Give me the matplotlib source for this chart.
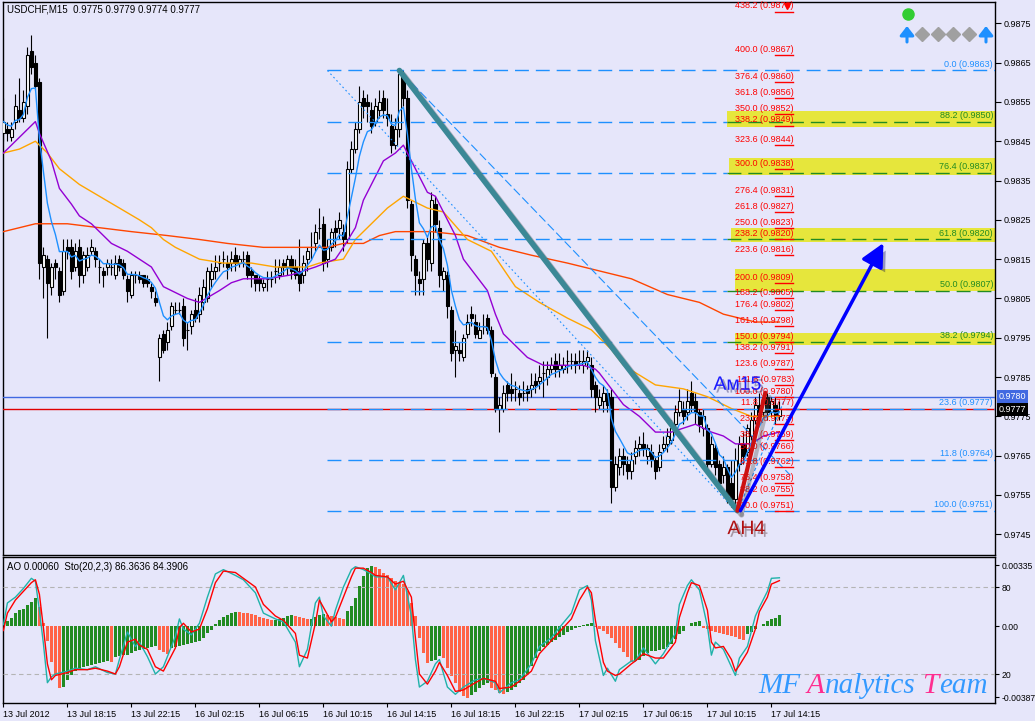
import numpy as np
import pandas as pd
import matplotlib
matplotlib.use('Agg')
import matplotlib.pyplot as plt
import matplotlib.patheffects as pe
from matplotlib.patches import Rectangle, FancyArrowPatch
from matplotlib.lines import Line2D
from matplotlib.transforms import blended_transform_factory

plt.rcParams['font.family'] = ['Liberation Sans', 'DejaVu Sans']

# ---- USDCHF M15 candles (13 Jul 14:15 .. 17 Jul 14:45) ----
opens = [.9847, .9848, .9846, .9850, .9853, .9851, .9854, .9868, .9865, .9860,
         .9813, .9815, .9808, .9814, .9812, .9807, .9818, .9818, .9813, .9818,
         .9811, .9813, .9817, .9817, .9813, .9812, .9813, .9813, .9811, .9815,
         .9814, .9810, .9806, .9811, .9811, .9811, .9810, .9808, .9805, .9790,
         .9796, .9794, .9798, .9802, .9802, .9803, .9797, .9798, .9802, .9801,
         .9804, .9805, .9810, .9812, .9814, .9815, .9814, .9814, .9816, .9814,
         .9815, .9816, .9812, .9811, .9810, .9808, .9810, .9810, .9812, .9811,
         .9814, .9813, .9815, .9813, .9812, .9811, .9815, .9818, .9819, .9823,
         .9824, .9815, .9818, .9823, .9823, .9822, .9820, .9838, .9843, .9848,
         .9856, .9855, .9853, .9850, .9853, .9856, .9852, .9849, .9844, .9848,
         .9861, .9856, .9829, .9815, .9810, .9810, .9819, .9814, .9829, .9823,
         .9810, .9811, .9802, .9792, .9792, .9790, .9796, .9801, .9799, .9795,
         .9798, .9800, .9797, .9785, .9777, .9777, .9783, .9782, .9782, .9781,
         .9781, .9782, .9782, .9784, .9784, .9786, .9785, .9787, .9789, .9787,
         .9787, .9789, .9789, .9789, .9789, .9788, .9789, .9788, .9783, .9778,
         .9779, .9781, .9780, .9757, .9762, .9765, .9763, .9761, .9765, .9767,
         .9768, .9765, .9766, .9764, .9762, .9767, .9768, .9769, .9773, .9776,
         .9777, .9776, .9781, .9779, .9776, .9772, .9772, .9763, .9767, .9763,
         .9760, .9762, .9758, .9754, .9763, .9768, .9766, .9770, .9774, .9778,
         .9776, .9780, .9776, .9778, .9775]
highs = [.9856, .9850, .9850, .9857, .9861, .9858, .9869, .9872, .9867, .9861,
         .9818, .9816, .9814, .9815, .9813, .9820, .9820, .9820, .9819, .9820,
         .9817, .9818, .9820, .9818, .9815, .9813, .9815, .9815, .9816, .9816,
         .9815, .9811, .9812, .9812, .9812, .9811, .9811, .9809, .9807, .9796,
         .9797, .9799, .9804, .9804, .9804, .9805, .9799, .9802, .9805, .9808,
         .9810, .9813, .9814, .9816, .9816, .9817, .9816, .9817, .9818, .9816,
         .9817, .9817, .9813, .9811, .9811, .9810, .9812, .9812, .9815, .9815,
         .9815, .9816, .9816, .9815, .9820, .9816, .9818, .9822, .9824, .9828,
         .9826, .9820, .9823, .9825, .9827, .9824, .9840, .9845, .9850, .9859,
         .9858, .9857, .9855, .9856, .9858, .9858, .9856, .9852, .9851, .9863,
         .9863, .9858, .9830, .9816, .9812, .9820, .9821, .9832, .9831, .9825,
         .9813, .9812, .9803, .9797, .9794, .9796, .9801, .9803, .9801, .9799,
         .9801, .9801, .9798, .9786, .9780, .9783, .9784, .9786, .9784, .9783,
         .9784, .9783, .9786, .9786, .9788, .9789, .9789, .9790, .9791, .9791,
         .9790, .9792, .9791, .9791, .9792, .9792, .9792, .9790, .9784, .9782,
         .9783, .9782, .9782, .9765, .9767, .9767, .9765, .9766, .9769, .9770,
         .9771, .9768, .9768, .9765, .9768, .9770, .9772, .9774, .9778, .9782,
         .9779, .9782, .9784, .9781, .9777, .9777, .9773, .9770, .9768, .9764,
         .9765, .9763, .9764, .9767, .9770, .9771, .9773, .9776, .9780, .9781,
         .9781, .9781, .9780, .9780, .9779]
lows = [.9845, .9845, .9845, .9848, .9850, .9850, .9852, .9862, .9858, .9810,
        .9805, .9795, .9806, .9810, .9804, .9806, .9815, .9810, .9812, .9808,
        .9809, .9812, .9816, .9813, .9809, .9808, .9811, .9811, .9810, .9812,
        .9810, .9804, .9805, .9809, .9809, .9808, .9808, .9805, .9803, .9784,
        .9791, .9792, .9797, .9801, .9801, .9793, .9792, .9796, .9799, .9799,
        .9802, .9804, .9808, .9810, .9812, .9813, .9810, .9812, .9812, .9813,
        .9813, .9810, .9808, .9807, .9807, .9807, .9807, .9808, .9809, .9810,
        .9811, .9811, .9810, .9810, .9807, .9809, .9812, .9815, .9817, .9820,
        .9812, .9813, .9817, .9818, .9820, .9817, .9819, .9837, .9842, .9847,
        .9851, .9850, .9847, .9849, .9851, .9851, .9849, .9842, .9843, .9846,
        .9854, .9828, .9812, .9806, .9806, .9806, .9812, .9812, .9822, .9808,
        .9807, .9800, .9789, .9785, .9789, .9789, .9795, .9798, .9795, .9795,
        .9796, .9796, .9785, .9776, .9771, .9776, .9779, .9779, .9779, .9778,
        .9779, .9779, .9780, .9781, .9782, .9780, .9783, .9786, .9785, .9785,
        .9786, .9786, .9787, .9786, .9787, .9786, .9787, .9780, .9776, .9777,
        .9776, .9776, .9753, .9756, .9760, .9760, .9759, .9759, .9763, .9765,
        .9765, .9763, .9762, .9759, .9761, .9766, .9766, .9768, .9771, .9775,
        .9773, .9774, .9776, .9773, .9771, .9770, .9761, .9762, .9760, .9756,
        .9758, .9753, .9752, .9751, .9761, .9763, .9765, .9769, .9773, .9775,
        .9775, .9774, .9775, .9773, .9774]
closes = [.9850, .9847, .9848, .9854, .9851, .9855, .9867, .9864, .9859, .9814,
          .9816, .9809, .9813, .9813, .9806, .9817, .9817, .9812, .9817, .9811,
          .9816, .9816, .9818, .9815, .9813, .9811, .9814, .9813, .9814, .9813,
          .9811, .9807, .9811, .9811, .9810, .9809, .9809, .9807, .9804, .9795,
          .9792, .9797, .9803, .9802, .9802, .9795, .9797, .9801, .9800, .9806,
          .9808, .9812, .9812, .9813, .9814, .9815, .9813, .9815, .9814, .9815,
          .9815, .9811, .9811, .9809, .9809, .9809, .9810, .9810, .9812, .9813,
          .9813, .9815, .9812, .9811, .9809, .9814, .9817, .9818, .9822, .9823,
          .9814, .9818, .9822, .9822, .9825, .9820, .9838, .9843, .9848, .9855,
          .9854, .9854, .9849, .9854, .9855, .9853, .9851, .9844, .9848, .9862,
          .9856, .9830, .9816, .9811, .9809, .9819, .9815, .9830, .9824, .9811,
          .9812, .9803, .9791, .9793, .9791, .9795, .9799, .9800, .9796, .9797,
          .9798, .9797, .9786, .9777, .9778, .9781, .9781, .9781, .9782, .9780,
          .9781, .9781, .9783, .9783, .9785, .9786, .9787, .9788, .9787, .9788,
          .9788, .9789, .9789, .9788, .9789, .9789, .9790, .9782, .9780, .9780,
          .9781, .9778, .9757, .9763, .9765, .9763, .9761, .9764, .9767, .9768,
          .9767, .9767, .9764, .9761, .9766, .9768, .9770, .9772, .9776, .9779,
          .9775, .9779, .9778, .9776, .9773, .9775, .9763, .9768, .9762, .9758,
          .9762, .9755, .9754, .9764, .9768, .9765, .9772, .9774, .9778, .9776,
          .9780, .9776, .9779, .9775, .9777]

# moving averages (bar index, price)
purple_idx = [0, 2, 5, 8, 9, 12, 14, 17, 19, 22, 24, 27, 31, 34, 37, 40, 42, 46, 49, 54,
              57, 60, 66, 72, 78, 83, 85, 88, 90, 93, 95, 98, 100, 103, 106, 108, 110, 113,
              115, 118, 121, 123, 125, 128, 131, 135, 140, 145, 148, 149, 152, 155, 159,
              163, 167, 170, 173, 177, 180, 183, 187, 190, 194]
purple_val = [.9842, .9844, .9847, .9850, .9847, .9840, .9833, .9829, .9826, .9824, .9822,
              .9819, .9817, .9815, .9813, .9808, .9807, .9805, .9804, .9807, .9809, .9810,
              .9810, .9811, .9813, .9815, .9818, .9823, .9830, .9836, .9840, .9842, .9844,
              .9838, .9832, .9831, .9827, .9821, .9815, .9811, .9807, .9801, .9796, .9793,
              .9790, .9788, .9788, .9788, .9787, .9786, .9782, .9778, .9775, .9771, .9771,
              .9772, .9773, .9771, .9770, .9768, .9768, .9770, .9771]
orange_idx = [0, 4, 8, 11, 14, 19, 24, 29, 34, 37, 40, 43, 47, 49, 55, 62, 68, 73, 76, 79,
              85, 88, 92, 96, 100, 106, 110, 116, 122, 128, 134, 141, 147, 152, 155, 163,
              170, 176, 182, 187, 194]
orange_val = [.9842, .9843, .9845, .9842, .9838, .9834, .9831, .9828, .9825, .9823, .9820,
              .9818, .9816, .9815, .9814, .9814, .9813, .9813, .9813, .9814, .9815, .9820,
              .9824, .9828, .9831, .9828, .9827, .9820, .9817, .9808, .9804, .9800, .9797,
              .9792, .9788, .9783, .9782, .9780, .9777, .9775, .9775]
red_ma_idx = [0, 8, 16, 24, 32, 41, 49, 56, 65, 73, 81, 85, 90, 94, 98, 107, 116, 124, 132,
              141, 149, 157, 166, 174, 180, 188, 194]
red_ma_val = [.9822, .9824, .9824, .9823, .9822, .9821, .9820, .9819, .9818, .9818, .9818,
              .9819, .9819, .9821, .9822, .9822, .9821, .9818, .9816, .9814, .9812, .9810,
              .9806, .9804, .9801, .9799, .9799]

# Awesome Oscillator
ao_vals = [0.00024, 0.00027, 0.00046, 0.00073, 0.00088, 0.00097, 0.00115, 0.00134, 0.00152, 0.00104,
           0.00020, -0.00082, -0.00198, -0.00269, -0.00339, -0.00335, -0.00296, -0.00269, -0.00247, -0.00232,
           -0.00223, -0.00216, -0.00210, -0.00205, -0.00199, -0.00196, -0.00192, -0.00194, -0.00170, -0.00163,
           -0.00159, -0.00156, -0.00146, -0.00137, -0.00130, -0.00123, -0.00117, -0.00113, -0.00110, -0.00128,
           -0.00142, -0.00150, -0.00119, -0.00113, -0.00108, -0.00102, -0.00097, -0.00091, -0.00086, -0.00080,
           -0.00062, -0.00038, -0.00020, 0.00012, 0.00035, 0.00050, 0.00062, 0.00070, 0.00077, 0.00076,
           0.00075, 0.00072, 0.00066, 0.00060, 0.00053, 0.00046, 0.00040, 0.00033, 0.00035, 0.00040,
           0.00046, 0.00055, 0.00060, 0.00055, 0.00049, 0.00044, 0.00038, 0.00042, 0.00050, 0.00060,
           0.00066, 0.00062, 0.00056, 0.00050, 0.00046, 0.00042, 0.00082, 0.00110, 0.00155, 0.00220,
           0.00274, 0.00320, 0.00330, 0.00322, 0.00311, 0.00293, 0.00283, 0.00265, 0.00247, 0.00238,
           0.00229, 0.00192, 0.00128, 0.00055, -0.00064, -0.00146, -0.00201, -0.00192, -0.00183, -0.00165,
           -0.00174, -0.00229, -0.00274, -0.00311, -0.00357, -0.00384, -0.00393, -0.00375, -0.00357, -0.00338,
           -0.00320, -0.00311, -0.00338, -0.00347, -0.00366, -0.00368, -0.00357, -0.00348, -0.00330, -0.00310,
           -0.00293, -0.00265, -0.00220, -0.00174, -0.00137, -0.00115, -0.00101, -0.00086, -0.00073, -0.00060,
           -0.00046, -0.00033, -0.00020, -0.00009, -0.00002, 0.00007, 0.00015, 0.00016, -0.00005, -0.00016,
           -0.00027, -0.00042, -0.00064, -0.00091, -0.00119, -0.00143, -0.00170, -0.00198, -0.00192, -0.00183,
           -0.00165, -0.00146, -0.00137, -0.00134, -0.00130, -0.00124, -0.00115, -0.00095, -0.00068, -0.00042,
           -0.00024, 0.00000, 0.00018, 0.00025, 0.00027, -0.00008, -0.00016, -0.00024, -0.00031, -0.00038,
           -0.00044, -0.00049, -0.00055, -0.00060, -0.00068, -0.00073, -0.00045, -0.00030, -0.00015, 0.00000,
           0.00015, 0.00030, 0.00040, 0.00046, 0.00060]

# Stochastic (20,2,3): main and signal, read at these bars
sto_idx = [0, 1, 3, 5, 7, 8, 9, 10, 11, 12, 13, 16, 18, 21, 23, 26, 28, 29, 31, 33, 34, 36,
           38, 40, 43, 44, 45, 47, 49, 51, 53, 55, 58, 60, 63, 65, 68, 70, 73, 74, 76, 78,
           79, 80, 82, 83, 85, 87, 88, 90, 92, 93, 96, 98, 100, 102, 103, 104, 106, 108,
           109, 111, 113, 115, 118, 120, 123, 124, 127, 129, 132, 134, 137, 139, 142, 144,
           146, 147, 148, 150, 151, 153, 154, 157, 158, 160, 163, 165, 168, 169, 171, 172,
           174, 176, 177, 178, 180, 182, 183, 184, 186, 188, 189, 191, 192, 194]
sto_main = [54, 69, 73, 79, 86, 84, 64, 41, 14, 18, 20, 22, 24, 23, 25, 21, 20, 30, 49, 39,
            42, 32, 20, 25, 46, 58, 51, 47, 55, 73, 89, 92, 88, 85, 76, 62, 58, 56, 42, 25,
            37, 69, 73, 60, 53, 64, 80, 92, 94, 92, 89, 87, 87, 78, 88, 60, 30, 11, 15, 27,
            30, 11, 6, 11, 16, 17, 14, 7, 14, 16, 27, 39, 45, 52, 62, 78, 81, 71, 43, 19,
            24, 15, 23, 29, 29, 38, 27, 34, 48, 68, 81, 85, 78, 53, 33, 42, 37, 25, 19, 31,
            39, 60, 66, 77, 86, 86.36]
sto_sig = [50, 62, 71, 77, 83, 85, 75, 52, 27, 16, 19, 21, 23, 23, 24, 22, 20, 25, 42, 44,
           40, 37, 25, 22, 38, 52, 55, 49, 51, 65, 83, 91, 90, 86, 80, 68, 60, 57, 48, 33,
           31, 55, 71, 66, 56, 59, 73, 87, 93, 93, 90, 88, 87, 82, 84, 73, 45, 20, 13, 22,
           28, 19, 8, 9, 14, 17, 15, 10, 11, 15, 22, 34, 43, 49, 58, 71, 80, 76, 57, 28,
           22, 19, 20, 27, 29, 34, 31, 31, 42, 59, 76, 83, 81, 64, 42, 38, 39, 30, 22, 26,
           35, 51, 63, 73, 82, 84.39]

# Fibonacci levels (blue/green retracement on the right)
fib_names = ['0.0', '88.2', '76.4', '61.8', '50.0', '38.2', '23.6', '11.8', '100.0']
fib_prices = [0.9863, 0.9850, 0.9837, 0.9820, 0.9807, 0.9794, 0.9777, 0.9764, 0.9751]
fib_green = [False, True, True, True, True, True, False, False, False]
zone_lo = [0.98486, 0.98364, 0.98193, 0.98069, 0.97932]
zone_hi = [0.98527, 0.98407, 0.98229, 0.98125, 0.97962]
zone_x0 = [180.8, 181.5, 182.0, 182.8, 182.8]

# red expansion levels
ext_names = ['438.2', '400.0', '376.4', '361.8', '350.0', '338.2', '323.6', '300.0', '276.4',
             '261.8', '250.0', '238.2', '223.6', '200.0', '188.2', '176.4', '161.8', '150.0',
             '138.2', '123.6', '111.8', '100.0', '11.8', '23.6', '38.2', '50.0', '61.8',
             '76.4', '88.2', '100.0']
ext_prices = [0.9878, 0.9867, 0.9860, 0.9856, 0.9852, 0.9849, 0.9844, 0.9838, 0.9831,
              0.9827, 0.9823, 0.9820, 0.9816, 0.9809, 0.9805, 0.9802, 0.9798, 0.9794,
              0.9791, 0.9787, 0.9783, 0.9780, 0.9777, 0.9773, 0.9769, 0.9766, 0.9762,
              0.9758, 0.9755, 0.9751]

tick_idx = [0, 16, 32, 48, 64, 80, 96, 112, 128, 144, 160, 176, 192]
tick_lbl = ['13 Jul 2012', '13 Jul 18:15', '13 Jul 22:15', '16 Jul 02:15', '16 Jul 06:15',
            '16 Jul 10:15', '16 Jul 14:15', '16 Jul 18:15', '16 Jul 22:15', '17 Jul 02:15',
            '17 Jul 06:15', '17 Jul 10:15', '17 Jul 14:15']

BG = '#e6e6fa'
W, H = 1035, 721


def fx(px):
    return px / W


def fy(py):
    return 1 - py / H


fig = plt.figure(figsize=(W / 100, H / 100), dpi=100, facecolor=BG)
ax = fig.add_axes([fx(3), fy(555), fx(995) - fx(3), fy(2) - fy(555)], facecolor=BG)
axi = fig.add_axes([fx(3), fy(703), fx(995) - fx(3), fy(557) - fy(703)], facecolor=BG)

XMAX = 247.9
for a in (ax, axi):
    a.set_xlim(-0.1, XMAX)
    for s in a.spines.values():
        s.set_color('black')
        s.set_linewidth(1.0)
ax.set_ylim(0.973973, 0.988042)

o, h, l, c = map(np.array, (opens, highs, lows, closes))
idx = np.arange(len(c))
up = c >= o
lo_b = np.minimum(o, c)
hgt = np.abs(c - o)

# yellow zones
for y0, y1, x0 in zip(zone_lo, zone_hi, zone_x0):
    ax.add_patch(Rectangle((x0, y0), 247.8 - x0, y1 - y0, facecolor='#e6e63c',
                           edgecolor='none', zorder=1))

# candles
ax.vlines(idx, l, h, color='black', lw=0.8, zorder=4)
ax.bar(idx[up], hgt[up], 0.7, bottom=lo_b[up], color='white', edgecolor='black', lw=0.8, zorder=5)
ax.bar(idx[~up], hgt[~up], 0.7, bottom=lo_b[~up], color='black', edgecolor='black', lw=0.8, zorder=5)

# moving averages
fast = pd.Series(c).ewm(span=6, adjust=False).mean()
ax.plot(red_ma_idx, red_ma_val, color='#ff4500', lw=1, zorder=6)
ax.plot(orange_idx, orange_val, color='#ffa500', lw=1, zorder=6)
ax.plot(purple_idx, purple_val, color='#9400d3', lw=1, zorder=6)
ax.plot(idx, fast, color='#1e90ff', lw=1, zorder=6)

# horizontal price lines
ax.axhline(0.9780, color='#4169e1', lw=1, zorder=3)
ax.axhline(0.97768, color='#e00000', lw=1, zorder=3)

# fib levels
fib_x0 = 81
for name, p, g in zip(fib_names, fib_prices, fib_green):
    if g:
        ax.plot([fib_x0, 181], [p, p], color='#1e90ff', lw=1, dashes=(10, 5), zorder=7)
        ax.plot([181, XMAX], [p, p], color='#228b22', lw=1, dashes=(10, 5), zorder=7)
        col = '#228b22'
    else:
        ax.plot([fib_x0, XMAX], [p, p], color='#1e90ff', lw=1, dashes=(10, 5), zorder=7)
        col = '#1e90ff'
    ax.text(247.4, p + 0.00005, f'{name} ({p:.4f})', color=col, fontsize=6.5,
            ha='right', va='bottom', zorder=9)

for name, p in zip(ext_names, ext_prices):
    ax.plot([193, 197.5], [p, p], color='red', lw=1, zorder=8)
    ax.text(197.6, p + 0.00003, f'{name} ({p:.4f})', color='red', fontsize=6.5,
            ha='right', va='bottom', zorder=9)
ax.plot([196], [0.98795], marker='v', color='red', ms=5, zorder=10)

# channel lines
ax.plot([81, 183], [0.9863, 0.9751], color='#1e90ff', lw=0.8, dashes=(1.5, 2.5), zorder=7)
ax.plot([100, 196.75], [0.9862, 0.9760], color='#1e90ff', lw=0.8, dashes=(8, 3), zorder=7)
ax.plot([184, 196], [0.9752, 0.9781], color='#1e90ff', lw=0.8, dashes=(3, 2), zorder=7)

shadow = [pe.SimpleLineShadow(offset=(3, -3), shadow_color='#505050', alpha=0.35), pe.Normal()]
peak = int(np.argmax(h[90:110])) + 90
bottom = int(np.argmin(l[170:])) + 170
ax.plot([peak, bottom + 0.5], [h[peak], l[bottom]], color='#3b8896', lw=4,
        solid_capstyle='round', zorder=11, path_effects=shadow)
ax.plot([bottom + 0.5, 190.5], [l[bottom], 0.9781], color='#cc1111', lw=3,
        solid_capstyle='round', zorder=12, path_effects=shadow)

arr = ax.annotate('', xy=(220.0, 0.98191), xytext=(184.25, 0.9751),
                  arrowprops=dict(arrowstyle='-|>,head_length=0.7,head_width=0.35',
                                  color='#0000ff', lw=2.5, mutation_scale=20,
                                  shrinkA=0, shrinkB=0), zorder=12)
arr.arrow_patch.set_path_effects([pe.SimplePatchShadow(offset=(3, -3), alpha=0.35), pe.Normal()])
arr2 = ax.annotate('', xy=(230.9, 0.97395), xytext=(220.9, 0.97555),
                   arrowprops=dict(arrowstyle='-|>,head_length=0.7,head_width=0.35',
                                   color='#b00000', lw=2, mutation_scale=20,
                                   shrinkA=0, shrinkB=0), zorder=12)
arr2.arrow_patch.set_path_effects([pe.SimplePatchShadow(offset=(3, -3), alpha=0.35), pe.Normal()])

tshadow = [pe.SimplePatchShadow(offset=(2, -2), alpha=0.35), pe.Normal()]
ax.text(177.5, 0.97829, 'Ам15', color='#1a1aff', fontsize=14, ha='left', va='center',
        zorder=13, path_effects=tshadow)
ax.text(181, 0.97462, 'AH4', color='#b01010', fontsize=14, ha='left', va='center',
        zorder=13, path_effects=tshadow)

fig.text(fx(7), fy(10), 'USDCHF,M15  0.9775 0.9779 0.9774 0.9777', fontsize=7,
         ha='left', va='center', color='black')

# right price scale
ax.yaxis.tick_right()
ax.set_yticks(np.round(np.arange(0.9745, 0.98751, 0.001), 4))
ax.set_yticklabels([f'{v:.4f}' for v in np.arange(0.9745, 0.98751, 0.001)])
ax.tick_params(axis='y', direction='out', length=4, width=0.8, labelsize=6.5, pad=2)
ax.set_xticks([])
bt = blended_transform_factory(ax.transAxes, ax.transData)
ax.text(1.004, 0.9780, '0.9780', transform=bt, fontsize=6.5, color='white', va='center',
        ha='left', bbox=dict(boxstyle='square,pad=0.2', fc='#4169e1', ec='none'), zorder=20, clip_on=False)
ax.text(1.004, 0.97768, '0.9777', transform=bt, fontsize=6.5, color='white', va='center',
        ha='left', bbox=dict(boxstyle='square,pad=0.2', fc='black', ec='none'), zorder=21, clip_on=False)

# indicator panel
ao = np.array(ao_vals)
prev = np.r_[ao[0] - 1, ao[:-1]]
ao_col = np.where(ao > prev, '#228b22', '#ff6347')
axi.bar(idx, ao, 0.7, color=ao_col, zorder=2)
axi.set_ylim(-0.004198, 0.003788)
axi.set_xticks(tick_idx)
axi.set_xticklabels(tick_lbl, ha='left')
axi.tick_params(axis='x', direction='out', length=3, width=0.8, labelsize=6.5, pad=2)

axs = axi.twinx()
axi.yaxis.tick_right()
axi.set_yticks([0.00335, 0.0, -0.00387])
axi.set_yticklabels(['0.00335', '0.00', '-0.00387'])
axi.tick_params(axis='y', direction='out', length=3, width=0.8, labelsize=6.2, pad=1.5)
axs.set_xlim(-0.1, XMAX)
axs.set_ylim(0, 100.7)
for lvl in (80, 20):
    axs.axhline(lvl, color='#b4b4b4', lw=0.8, dashes=(4, 3))
axs.plot(sto_idx, sto_main, color='#20b2aa', lw=1)
axs.plot(sto_idx, sto_sig, color='red', lw=1)
axs.set_yticks([80, 20])
axs.set_yticklabels(['80', '20'])
axs.tick_params(axis='y', direction='out', length=3, width=0.8, labelsize=6.2, pad=1.5)
for s in axs.spines.values():
    s.set_visible(False)
fig.text(fx(7), fy(567), 'AO 0.00060  Sto(20,2,3) 86.3636 84.3906', fontsize=7,
         ha='left', va='center', color='black')

# top-right status icons
fig.add_artist(Line2D([fx(908)], [fy(14)], marker='o', ms=8, color='#32cd32',
                      transform=fig.transFigure))
for px in (922, 938, 953, 969):
    fig.add_artist(Line2D([fx(px)], [fy(34)], marker='D', ms=7, color='#a0a0a0',
                          transform=fig.transFigure))
for px in (907, 986):
    fig.add_artist(FancyArrowPatch((fx(px), fy(42)), (fx(px), fy(26)), transform=fig.transFigure,
                                   arrowstyle='-|>,head_length=0.45,head_width=0.35',
                                   mutation_scale=12, lw=2.2, color='#1e90ff',
                                   shrinkA=0, shrinkB=0))

# logo
fig.canvas.draw()
r = fig.canvas.get_renderer()
xpos = 758
parts = [('MF', '#3399ff', 7), ('A', '#ff2d8f', 0), ('nalytics', '#3399ff', 7),
         ('T', '#ff2d8f', 0), ('eam', '#3399ff', 0)]
for txt, col, gap in parts:
    t = fig.text(fx(xpos), fy(693), txt, color=col, fontsize=21, family='Liberation Serif',
                 style='italic', ha='left', va='baseline')
    bb = t.get_window_extent(r)
    xpos = bb.x1 + gap

fig.savefig('out.png', dpi=100, facecolor=BG)
